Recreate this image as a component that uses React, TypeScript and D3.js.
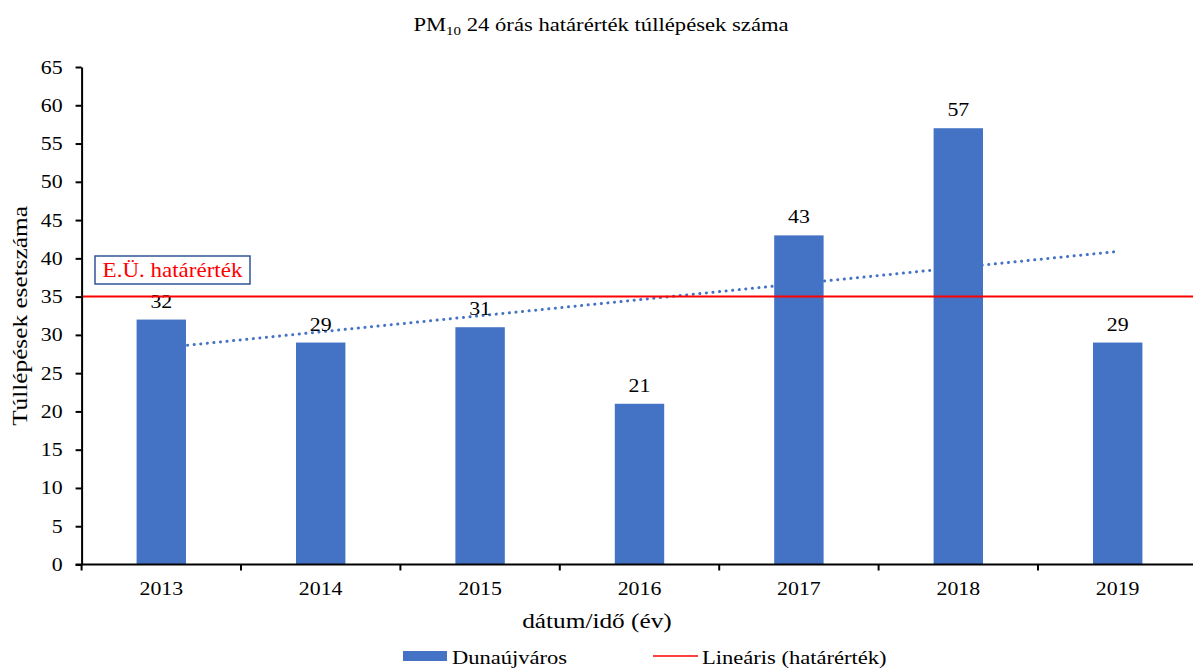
import React, { useEffect, useRef } from "react";
import * as d3 from "d3";

const years = ["2013", "2014", "2015", "2016", "2017", "2018", "2019"];
const counts = [32, 29, 31, 21, 43, 57, 29];
// trend endpoints (first and last year)
const trendValues = [28.3, 40.9];
const limitValue = 35;
const yTicks = d3.range(0, 70, 5);

const FONT = "'Liberation Serif', 'Times New Roman', serif";
const SX = 1.15; // the reference text is a bit wider than the font

const App = () => {
  const svgRef = useRef<SVGSVGElement>(null);

  useEffect(() => {
    const svg = d3.select(svgRef.current);
    svg.selectAll("*").remove();

    const width = 1193, height = 669;
    const margin = { top: 67, left: 81.6, bottom: 104.5 };
    const band = 159.4;

    const x = d3.scaleBand()
      .domain(years)
      .range([margin.left, margin.left + band * years.length])
      .paddingInner(0.69)
      .paddingOuter(0.345);

    const y = d3.scaleLinear()
      .domain([0, 65])
      .range([height - margin.bottom, margin.top]);

    const cx = (d: string) => (x(d) as number) + x.bandwidth() / 2;

    const label = (g: any, px: number, py: number, size: number, txt: string, anchor = "middle", rot = 0) =>
      g.append("text")
        .attr("transform", `translate(${px},${py}) rotate(${rot}) scale(${SX},1)`)
        .attr("text-anchor", anchor)
        .attr("font-family", FONT)
        .attr("font-size", size)
        .text(txt);

    // title
    const title = svg.append("text")
      .attr("transform", `translate(601,31) scale(${SX},1)`)
      .attr("text-anchor", "middle")
      .attr("font-family", FONT).attr("font-size", 19.7);
    title.append("tspan").text("PM");
    title.append("tspan").attr("font-size", 13).attr("dy", 4).text("10");
    title.append("tspan").attr("dy", -4).text(" 24 órás határérték túllépések száma");

    // trend (behind bars)
    const trendX = [cx(years[0]), cx(years[years.length - 1])];
    svg.append("path")
      .datum(trendValues)
      .attr("fill", "none")
      .attr("stroke", "#4472C4")
      .attr("stroke-width", 3)
      .attr("stroke-dasharray", "0.1 6.5")
      .attr("stroke-linecap", "round")
      .attr("d", d3.line<number>().x((_, i) => trendX[i]).y(d => y(d)));

    // bars
    svg.append("g").selectAll("rect")
      .data(counts)
      .join("rect")
      .attr("x", (_, i) => x(years[i]) as number)
      .attr("y", d => y(d))
      .attr("width", x.bandwidth())
      .attr("height", d => y(0) - y(d))
      .attr("fill", "#4472C4");

    // value labels
    const vg = svg.append("g");
    counts.forEach((d, i) => label(vg, cx(years[i]), y(d) - 12, 19, String(d)));

    // limit line
    svg.append("line")
      .attr("x1", margin.left).attr("x2", width)
      .attr("y1", y(limitValue)).attr("y2", y(limitValue))
      .attr("stroke", "#FF0000").attr("stroke-width", 2);

    // y axis
    const yAxis = svg.append("g")
      .attr("transform", `translate(${margin.left},0)`)
      .call(d3.axisLeft(y).tickValues(yTicks).tickSize(6).tickSizeOuter(0).tickFormat(() => ""));
    yAxis.select(".domain").attr("stroke", "#000").attr("stroke-width", 2);
    yAxis.selectAll(".tick line").attr("stroke-width", 2);
    const yl = svg.append("g");
    yTicks.forEach(t => label(yl, margin.left - 19, y(t) + 6.5, 19, String(t), "end"));

    // x axis
    const xg = svg.append("g").attr("transform", `translate(0,${y(0)})`);
    xg.append("line")
      .attr("x1", margin.left - 6).attr("x2", width)
      .attr("stroke", "#000").attr("stroke-width", 2);
    xg.selectAll("line.tk")
      .data(d3.range(years.length + 1))
      .join("line")
      .attr("class", "tk")
      .attr("x1", i => margin.left + i * band).attr("x2", i => margin.left + i * band)
      .attr("y1", 0).attr("y2", 6)
      .attr("stroke", "#000").attr("stroke-width", 2);
    years.forEach(d => label(xg, cx(d), 30, 19, d));

    // axis titles
    label(svg, 597, 628, 22, "dátum/idő (év)");
    label(svg, 27, 316, 22, "Túllépések esetszáma", "middle", -90);

    // annotation box
    svg.append("rect")
      .attr("x", 95).attr("y", 256).attr("width", 155).attr("height", 28)
      .attr("fill", "#fff").attr("stroke", "#2F5597").attr("stroke-width", 1.5);
    label(svg, 172.5, 277, 20, "E.Ü. határérték").attr("fill", "#FF0000");

    // legend
    svg.append("rect")
      .attr("x", 403).attr("y", 651).attr("width", 44).attr("height", 10)
      .attr("fill", "#4472C4");
    label(svg, 452, 663.5, 19.6, "Dunaújváros", "start");
    svg.append("line")
      .attr("x1", 653).attr("x2", 698).attr("y1", 656).attr("y2", 656)
      .attr("stroke", "#FF0000").attr("stroke-width", 1.5);
    label(svg, 702, 663.5, 19.6, "Lineáris (határérték)", "start");
  }, []);

  return (
    <svg
      ref={svgRef}
      width={1193}
      height={669}
      style={{ position: "absolute", left: 0, top: 0, background: "#fff" }}
    />
  );
};

export default App;
